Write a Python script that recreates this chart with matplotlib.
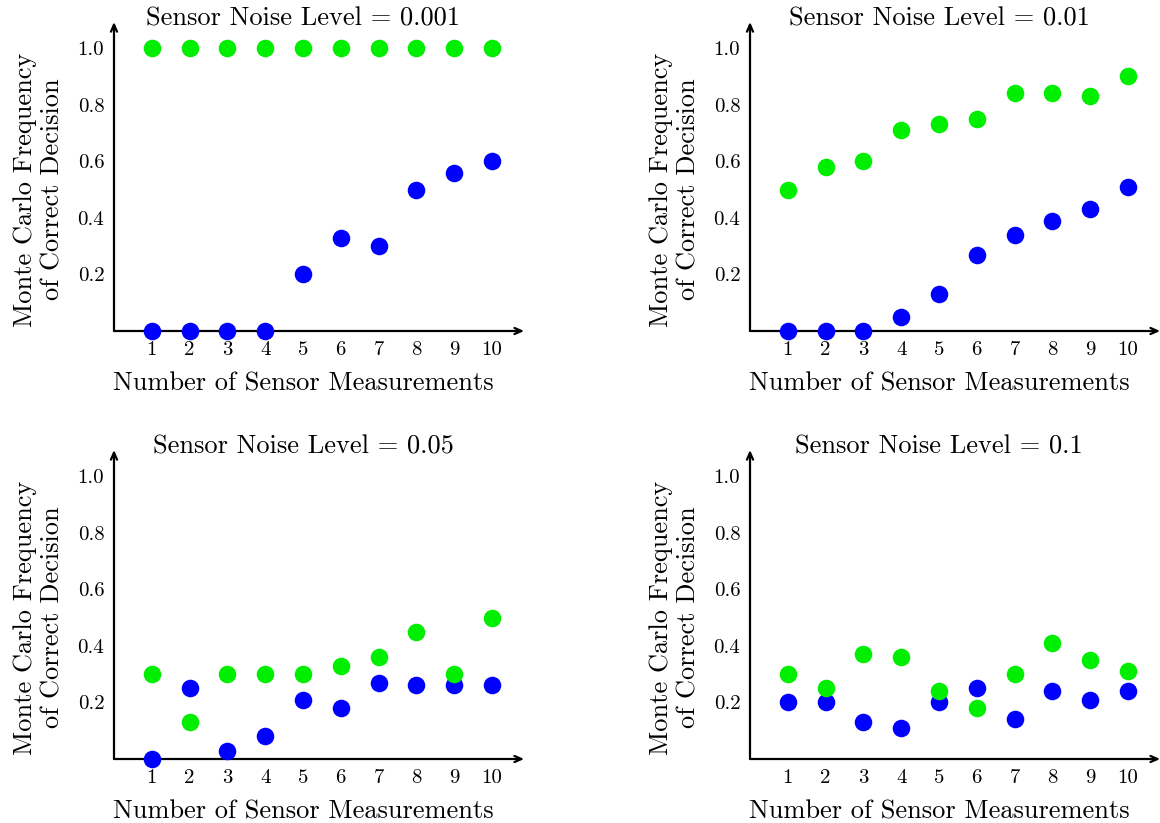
import matplotlib
matplotlib.use("Agg")
import matplotlib.pyplot as plt

plt.rcParams['font.family'] = ['cmr10', 'DejaVu Serif']
plt.rcParams['axes.formatter.use_mathtext'] = True
plt.rcParams['mathtext.fontset'] = 'cm'

# Data
measurements = [1, 2, 3, 4, 5, 6, 7, 8, 9, 10]
noise_titles = ['Sensor Noise Level = 0.001', 'Sensor Noise Level = 0.01',
                'Sensor Noise Level = 0.05', 'Sensor Noise Level = 0.1']

green_001 = [1.0, 1.0, 1.0, 1.0, 1.0, 1.0, 1.0, 1.0, 1.0, 1.0]
blue_001 = [0.0, 0.0, 0.0, 0.0, 0.20, 0.33, 0.30, 0.50, 0.56, 0.60]

green_01 = [0.50, 0.58, 0.60, 0.71, 0.73, 0.75, 0.84, 0.84, 0.83, 0.90]
blue_01 = [0.0, 0.0, 0.0, 0.05, 0.13, 0.27, 0.34, 0.39, 0.43, 0.51]

green_05 = [0.30, 0.13, 0.30, 0.30, 0.30, 0.33, 0.36, 0.45, 0.30, 0.50]
blue_05 = [0.0, 0.25, 0.03, 0.08, 0.21, 0.18, 0.27, 0.26, 0.26, 0.26]

green_1 = [0.30, 0.25, 0.37, 0.36, 0.24, 0.18, 0.30, 0.41, 0.35, 0.31]
blue_1 = [0.20, 0.20, 0.13, 0.11, 0.20, 0.25, 0.14, 0.24, 0.21, 0.24]

y_ticks = [0.2, 0.4, 0.6, 0.8, 1.0]
y_ticklabels = ['0.2', '0.4', '0.6', '0.8', '1.0']

panels = [
    (noise_titles[0], green_001, blue_001),
    (noise_titles[1], green_01, blue_01),
    (noise_titles[2], green_05, blue_05),
    (noise_titles[3], green_1, blue_1),
]

W, H = 1160, 823
fig = plt.figure(figsize=(W / 100, H / 100), dpi=100)

# axes origins in pixels: (left, bottom measured from top)
origins = [(114, 331), (750, 331), (114, 759), (750, 759)]
xmax, ymax = 10.85, 1.092
ax_w = 37.8 * xmax
ax_h = 283 * ymax

for (title, green, blue), (px, py) in zip(panels, origins):
    ax = fig.add_axes([px / W, 1 - py / H, ax_w / W, ax_h / H])
    ax.set_xlim(0, xmax)
    ax.set_ylim(0, ymax)
    for s in ax.spines.values():
        s.set_visible(False)

    # arrowed axes
    arrow = dict(arrowstyle='->,head_length=0.5,head_width=0.22', lw=1.6, color='black',
                 shrinkA=0, shrinkB=0)
    ax.annotate('', xy=(1, 0), xytext=(0, 0), xycoords='axes fraction', arrowprops=arrow)
    ax.annotate('', xy=(0, 1), xytext=(0, 0), xycoords='axes fraction', arrowprops=arrow)

    ax.scatter(measurements, blue, s=160, color='#0000ff', zorder=3, clip_on=False, linewidths=0)
    ax.scatter(measurements, green, s=160, color='#00ee00', zorder=4, clip_on=False, linewidths=0)

    ax.set_xticks(measurements)
    ax.set_xticklabels([str(m) for m in measurements], fontsize=15)
    ax.set_yticks(y_ticks)
    ax.set_yticklabels(y_ticklabels, fontsize=15)
    ax.tick_params(length=0)
    ax.tick_params(axis='x', pad=7)
    ax.tick_params(axis='y', pad=7)

    ax.text(5, 1.105, title, ha='center', va='center', fontsize=19)
    ax.text(5, -0.185, 'Number of Sensor Measurements', ha='center', va='center', fontsize=19)
    ax.text(-2.0, 0.5, 'Monte Carlo Frequency\nof Correct Decision', ha='center', va='center',
            rotation=90, fontsize=19, multialignment='center', linespacing=1.2)

fig.savefig('out.png', dpi=100)
